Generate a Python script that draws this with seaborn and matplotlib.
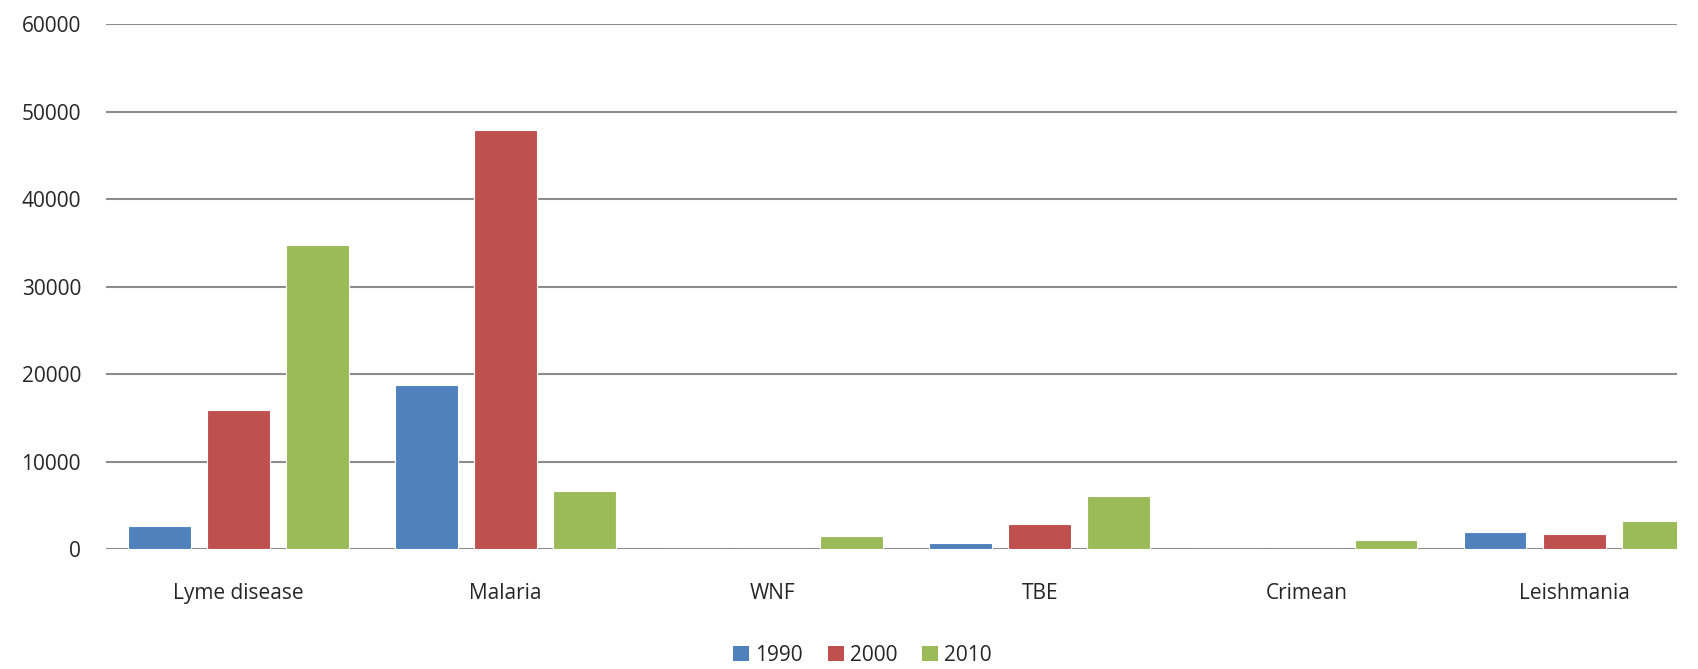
import pandas as pd
import numpy as np
import seaborn as sns
import matplotlib.pyplot as plt
from matplotlib.patches import Patch

diseases = ["Lyme disease", "Malaria", "WNF", "TBE", "Crimean", "Leishmania"]
years = ["1990", "2000", "2010"]
cases_1990 = [2700, 18800, 0, 700, 0, 2000]
cases_2000 = [15900, 47900, 0, 2900, 0, 1750]
cases_2010 = [34800, 6700, 1500, 6100, 1000, 3250]
colors = ["#4F81BD", "#C0504D", "#9BBB59"]

data = pd.DataFrame({
    "disease": diseases * 3,
    "year": [y for y in years for _ in diseases],
    "cases": cases_1990 + cases_2000 + cases_2010,
})

sns.set_style("white")
plt.rcParams["font.family"] = ["Open Sans", "DejaVu Sans"]

fig = plt.figure(figsize=(16.98, 6.69), dpi=100)
ax = fig.add_axes([0.0624, 0.179, 0.9252, 0.785])

sns.barplot(data=data, x="disease", y="cases", hue="year", order=diseases,
            hue_order=years, palette=colors, width=0.888, gap=0.205,
            edgecolor="white", linewidth=0.8, saturation=1, legend=False, ax=ax)

ax.set_ylim(0, 60000)
ax.set_xlim(-0.495, 5.385)
ax.set_yticks(np.arange(0, 60001, 10000))
ax.yaxis.grid(True, color="#8c8c8c", linewidth=1.5)
ax.set_axisbelow(True)
for s in ax.spines.values():
    s.set_visible(False)
ax.axhline(0, color="#8c8c8c", linewidth=2, zorder=0.5)
ax.tick_params(axis="y", length=0, pad=18, labelsize=15)
ax.tick_params(axis="x", length=0, pad=24, labelsize=15)
ax.set_xlabel("")
ax.set_ylabel("")

handles = [Patch(facecolor=c, edgecolor="none") for c in colors]
fig.legend(handles, years, loc="center", bbox_to_anchor=(0.508, 0.02), ncol=3,
           frameon=False, fontsize=15, handlelength=0.75, handleheight=0.75,
           handletextpad=0.3, columnspacing=1.2)

plt.savefig("out.png", dpi=100)
